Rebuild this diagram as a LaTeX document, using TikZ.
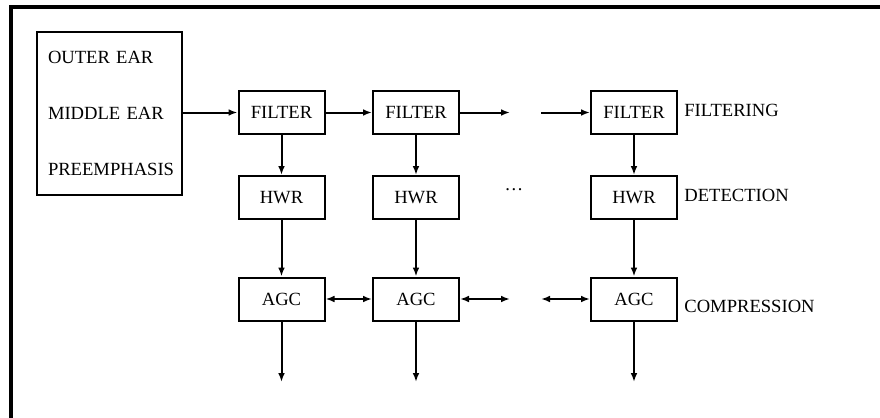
\documentclass[tikz,border=0pt]{standalone}
\usepackage{fontspec}
\setmainfont{Liberation Serif}
\usetikzlibrary{arrows.meta,positioning}

\begin{document}
\begin{tikzpicture}[
  x=0.5pt, y=-0.5pt,
  font=\fontsize{9.3}{11}\selectfont,
  >={Latex[length=4.5pt,width=3.4pt]},
  stage/.style={draw, line width=1pt, minimum width=43pt,
    minimum height=21.5pt, inner sep=0pt},
  earbox/.style={draw, line width=1pt, align=left, text width=61.5pt,
    inner xsep=5.5pt, minimum height=81.5pt},
  tag/.style={anchor=west, inner sep=0pt},
  flow/.style={->, line width=1pt},
  link/.style={<->, line width=1pt},
  frame/.style={line width=1.6pt}
]
  \useasboundingbox (0,0) rectangle (880,418);
  \draw[frame] (11,418) -- (11,7) -- (880,7);

  \node[earbox] (ear) at (109.5,113.5)
    {OUTER EAR\\[17pt]MIDDLE EAR\\[17pt]PREEMPHASIS};

  \node[stage] (filter1) at (281.5,112.5) {FILTER};
  \node[stage] (filter2) at (416,112.5) {FILTER};
  \node[stage] (filter3) at (634,112.5) {FILTER};
  \node[stage] (hwr1) at (281.5,197.5) {HWR};
  \node[stage] (hwr2) at (416,197.5) {HWR};
  \node[stage] (hwr3) at (634,197.5) {HWR};
  \node[stage] (agc1) at (281.5,299) {AGC};
  \node[stage] (agc2) at (416,299) {AGC};
  \node[stage] (agc3) at (634,299) {AGC};

  \node[tag] (filtering) at (684,110) {FILTERING};
  \node[tag] (detection) at (684,195) {DETECTION};
  \node[tag] (compression) at (684,306) {COMPRESSION};
  \node (dots) at (514,190) {\ldots};

  \coordinate (fgapl) at (510,112.5);
  \coordinate (fgapr) at (541,112.5);
  \coordinate (agapl) at (510,299);
  \coordinate (agapr) at (541,299);
  \coordinate (out1) at (281.5,382);
  \coordinate (out2) at (416,382);
  \coordinate (out3) at (634,382);

  \draw[flow] (ear.east |- filter1) -- (filter1);
  \draw[flow] (filter1) -- (filter2);
  \draw[flow] (filter2) -- (fgapl);
  \draw[flow] (fgapr) -- (filter3);
  \draw[flow] (filter1) -- (hwr1);
  \draw[flow] (filter2) -- (hwr2);
  \draw[flow] (filter3) -- (hwr3);
  \draw[flow] (hwr1) -- (agc1);
  \draw[flow] (hwr2) -- (agc2);
  \draw[flow] (hwr3) -- (agc3);
  \draw[link] (agc1) -- (agc2);
  \draw[link] (agc2) -- (agapl);
  \draw[link] (agapr) -- (agc3);
  \draw[flow] (agc1) -- (out1);
  \draw[flow] (agc2) -- (out2);
  \draw[flow] (agc3) -- (out3);
\end{tikzpicture}
\end{document}
